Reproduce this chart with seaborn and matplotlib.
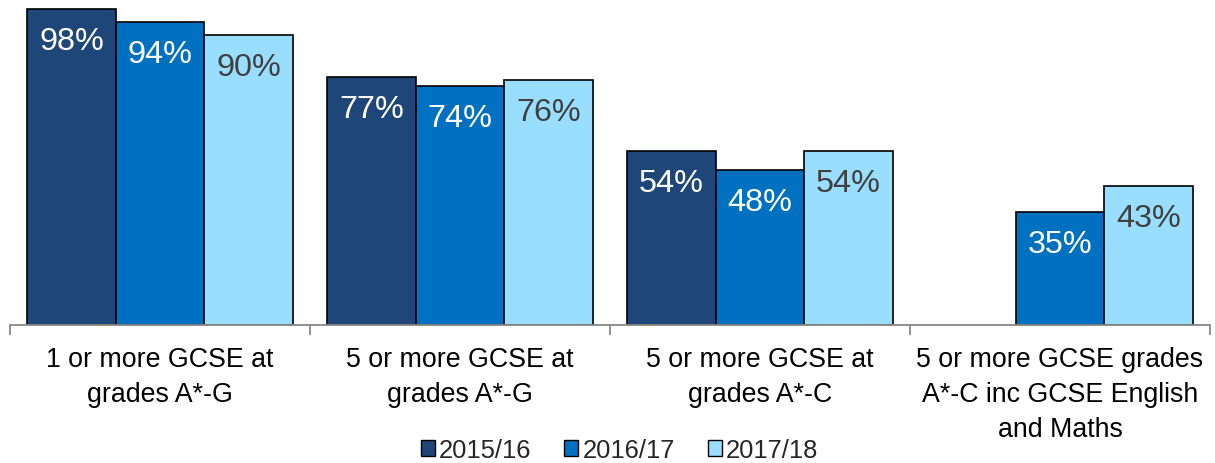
import numpy as np
import pandas as pd
import matplotlib
matplotlib.use("Agg")
import matplotlib.pyplot as plt
import seaborn as sns

categories = ["1 or more GCSE at\ngrades A*-G",
              "5 or more GCSE at\ngrades A*-G",
              "5 or more GCSE at\ngrades A*-C",
              "5 or more GCSE grades\nA*-C inc GCSE English\nand Maths"]
years = ["2015/16", "2016/17", "2017/18"]
v_2015 = [98, 77, 54, np.nan]
v_2016 = [94, 74, 48, 35]
v_2017 = [90, 76, 54, 43]

colors = ["#1F4678", "#0070C0", "#99DDFF"]
text_colors = ["white", "white", "#404040"]

rows = []
for yr, vals in zip(years, [v_2015, v_2016, v_2017]):
    for c, v in zip(categories, vals):
        rows.append({"category": c, "year": yr, "value": v})
df = pd.DataFrame(rows)

sns.set_theme(style="white")
plt.rcParams["font.family"] = ["Liberation Sans", "DejaVu Sans"]

fig = plt.figure(figsize=(12.15, 4.64), dpi=100)
ax = fig.add_axes([10/1215, 138/464, 1200/1215, 326/464])

sns.barplot(data=df, x="category", y="value", hue="year", order=categories,
            hue_order=years, palette=colors, width=0.885, edgecolor="black",
            linewidth=1.2, saturation=1, ax=ax, legend=False, errorbar=None)

ax.set_ylim(0, 101.1)
ax.set_xlim(-0.5, 3.5)
ax.set_xlabel("")
ax.set_ylabel("")
ax.set_yticks([])
for s in ["top", "right", "left"]:
    ax.spines[s].set_visible(False)
ax.spines["bottom"].set_color("#888888")
ax.spines["bottom"].set_linewidth(1.3)

ax.set_xticks(range(len(categories)))
ax.set_xticklabels(categories, fontsize=19.3, linespacing=1.45, color="black")
ax.tick_params(axis="x", which="major", bottom=True, length=0, pad=15)
ax.set_xticks(np.arange(-0.5, 4.0, 1.0), minor=True)
ax.tick_params(axis="x", which="minor", bottom=True, length=7, width=1.3,
               color="#888888", direction="out")

for i, cont in enumerate(ax.containers):
    for bar in cont:
        h = bar.get_height()
        if np.isnan(h) or h == 0:
            continue
        ax.text(bar.get_x() + bar.get_width()/2, h - 9.9, f"{int(round(h))}%",
                ha="center", va="center", fontsize=23.3, color=text_colors[i])

handles = [plt.Rectangle((0, 0), 1, 1, facecolor=c, edgecolor="black", linewidth=1.0) for c in colors]
fig.legend(handles, years, loc="center", bbox_to_anchor=(0.5 + 12/1215, 1 - 451/464), ncol=3,
           frameon=False, fontsize=18.4, handlelength=0.55, handleheight=0.55,
           handletextpad=0.15, columnspacing=1.3, borderaxespad=0)

fig.savefig("out.png", dpi=100)
